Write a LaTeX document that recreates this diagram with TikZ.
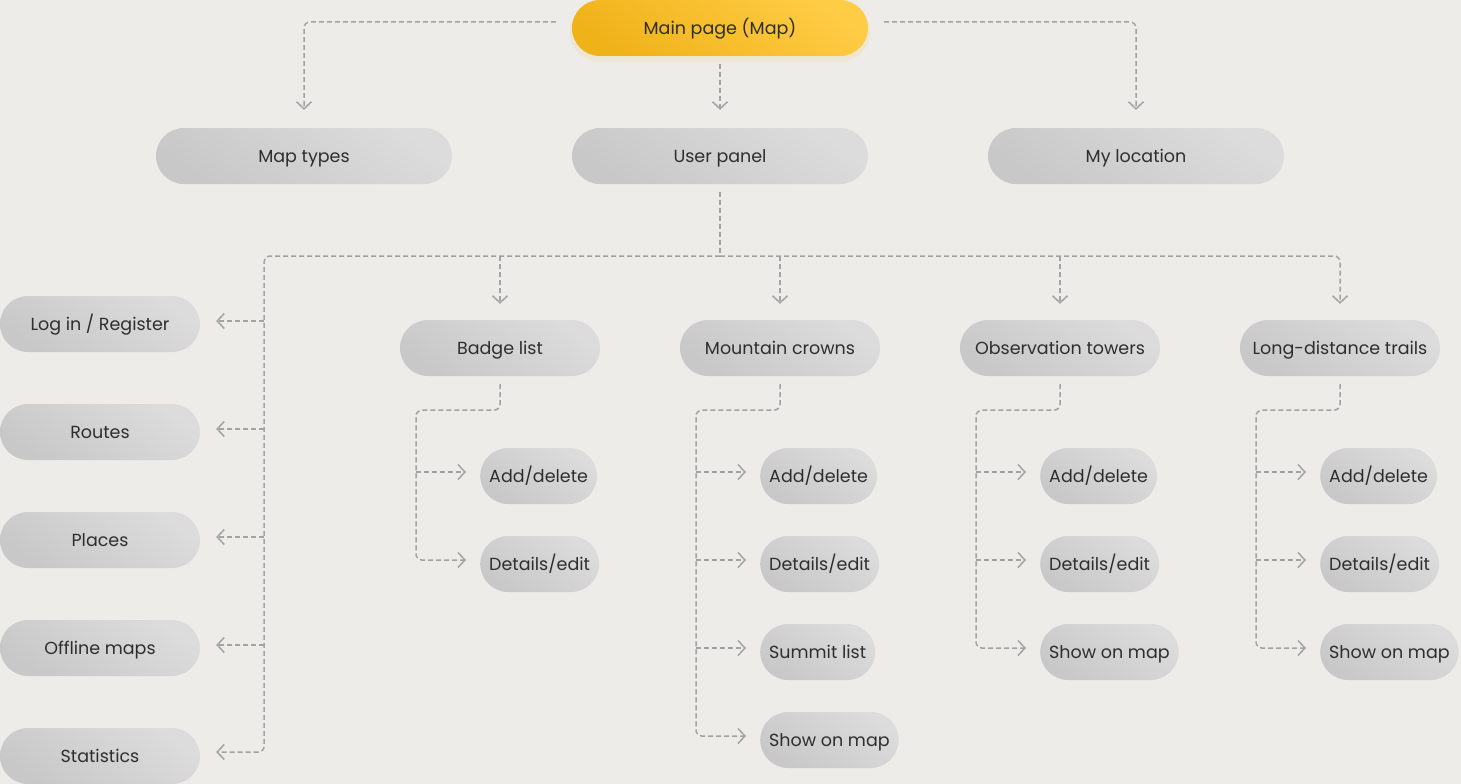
\documentclass[tikz,border=0pt]{standalone}
\usepackage{fontspec}
\setmainfont{Poppins}
\usetikzlibrary{arrows.meta}
\definecolor{bg}{HTML}{EDECE8}
\definecolor{txt}{HTML}{2E2E2E}
\definecolor{lnc}{HTML}{A3A3A3}
\definecolor{gA}{HTML}{C8C8C8}
\definecolor{gB}{HTML}{DCDCDC}
\definecolor{yA}{HTML}{F0B219}
\definecolor{yB}{HTML}{FFCC45}
\tikzset{
  pill/.style={rectangle, rounded corners=28pt, minimum height=56pt, inner xsep=8pt,
    text height=14pt, text depth=1pt,
    top color=gB, bottom color=gA, shading angle=-35, draw=none, text=txt,
    font=\fontsize{17.5}{19}\selectfont},
  bigpill/.style={pill, minimum width=296pt},
  midpill/.style={pill, minimum width=200pt},
  subpill/.style={pill, anchor=west, inner xsep=9pt},
  mainpill/.style={pill, minimum width=296pt, top color=yB, bottom color=yA, shading angle=-35},
  conn/.style={draw=lnc, line width=1.5pt, dash pattern=on 5pt off 3pt, rounded corners=6pt},
  arr/.style={conn, -{Straight Barb[length=7pt,width=15pt,line width=1.5pt]}},
}
\begin{document}
\begin{tikzpicture}[x=1pt,y=-1pt]
\fill[bg] (0,0) rectangle (1461,784);
\useasboundingbox (0,0) rectangle (1461,784);

% soft glow under main node
\fill[yA, opacity=0.10, rounded corners=30pt] (570,2) rectangle (870,62);

\node[mainpill] (main) at (720,28) {Main page (Map)};
\node[bigpill] (maptypes) at (304,156) {Map types};
\node[bigpill] (user) at (720,156) {User panel};
\node[bigpill] (loc) at (1136,156) {My location};

\node[midpill] (login) at (100,324) {Log in / Register};
\node[midpill] (routes) at (100,432) {Routes};
\node[midpill] (places) at (100,540) {Places};
\node[midpill] (offline) at (100,648) {Offline maps};
\node[midpill] (stats) at (100,756) {Statistics};

\node[midpill] (badge) at (500,348) {Badge list};
\node[midpill] (crowns) at (780,348) {Mountain crowns};
\node[midpill] (towers) at (1060,348) {Observation towers};
\node[midpill] (trails) at (1340,348) {Long-distance trails};

\node[subpill] (badd) at (480,476) {Add/delete};
\node[subpill] (bdet) at (480,564) {Details/edit};

\node[subpill] (cadd) at (760,476) {Add/delete};
\node[subpill] (cdet) at (760,564) {Details/edit};
\node[subpill] (csum) at (760,652) {Summit list};
\node[subpill] (cshow) at (760,740) {Show on map};

\node[subpill] (tadd) at (1040,476) {Add/delete};
\node[subpill] (tdet) at (1040,564) {Details/edit};
\node[subpill] (tshow) at (1040,652) {Show on map};

\node[subpill] (ladd) at (1320,476) {Add/delete};
\node[subpill] (ldet) at (1320,564) {Details/edit};
\node[subpill] (lshow) at (1320,652) {Show on map};

% top connectors
\draw[arr] ([xshift=-16pt,yshift=6pt]main.west) -| ([yshift=18pt]maptypes.north);
\draw[arr] ([xshift=16pt,yshift=6pt]main.east) -| ([yshift=18pt]loc.north);
\draw[arr] ([yshift=-8pt]main.south) -- ([yshift=18pt]user.north);

% user panel tree
\coordinate (hub) at (720,256);
\draw[conn] ([yshift=-8pt]user.south) -- (hub);
\draw[arr] (hub) -| ([yshift=16pt]trails.north);
\draw[arr] (hub) -| ([xshift=64pt,yshift=4pt]stats.east) -- ([xshift=16pt,yshift=4pt]stats.east);
\foreach \n in {badge,crowns,towers}
  \draw[arr] (\n.north |- hub) -- ([yshift=16pt]\n.north);
\foreach \n in {login,routes,places,offline}
  \draw[arr] ([xshift=64pt,yshift=3pt]\n.east) -- ([xshift=16pt,yshift=3pt]\n.east);

% sub trees
\foreach \p/\last/\others in {badge/bdet/{badd}, crowns/cshow/{cadd,cdet,csum}, towers/tshow/{tadd,tdet}, trails/lshow/{ladd,ldet}} {
  \draw[arr] ([yshift=-8pt]\p.south) -- ([yshift=-34pt]\p.south) -| ([xshift=-64pt,yshift=4pt]\last.west) -- ([xshift=-14pt,yshift=4pt]\last.west);
  \foreach \o in \others
    \draw[arr] ([xshift=-64pt,yshift=4pt]\o.west) -- ([xshift=-14pt,yshift=4pt]\o.west);
}
\end{tikzpicture}
\end{document}
